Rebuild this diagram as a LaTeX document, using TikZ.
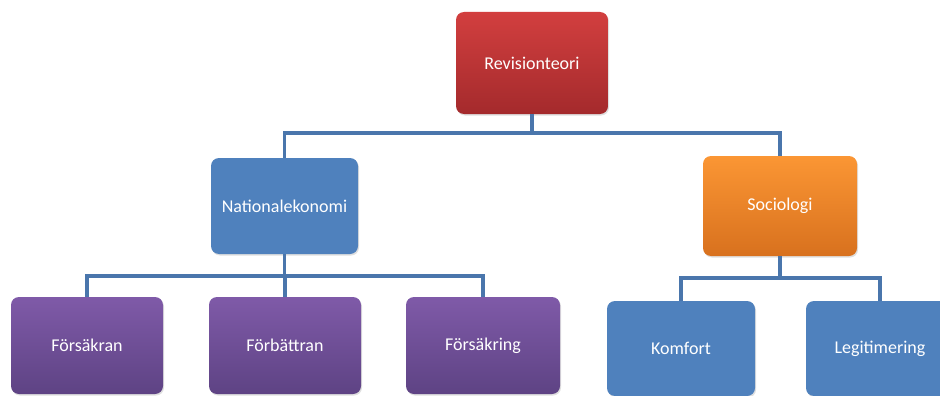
\documentclass[tikz,border=0pt]{standalone}
\usepackage{fontspec}
\setmainfont{Carlito}
\usetikzlibrary{shadows}
\definecolor{linkblue}{HTML}{4A76AC}
\definecolor{redtop}{HTML}{D23F3F}
\definecolor{redbot}{HTML}{A42A2C}
\definecolor{bluebox}{HTML}{4F81BD}
\definecolor{orangetop}{HTML}{FB9634}
\definecolor{orangebot}{HTML}{D8711E}
\definecolor{purpletop}{HTML}{7F5AA8}
\definecolor{purplebot}{HTML}{5E4384}
\tikzset{
  x=1pt, y=-1pt,
  card/.style={rectangle, rounded corners=8pt, text=white,
    font=\fontsize{18}{20}\selectfont,
    drop shadow={shadow xshift=1pt, shadow yshift=-1.5pt, opacity=0.25}},
  redcard/.style={card, top color=redtop, bottom color=redbot},
  bluecard/.style={card, fill=bluebox},
  orangecard/.style={card, top color=orangetop, bottom color=orangebot},
  purplecard/.style={card, top color=purpletop, bottom color=purplebot},
  conn/.style={draw=linkblue, line width=3.2pt}
}
\begin{document}
\begin{tikzpicture}
\useasboundingbox (0,0) rectangle (940,396);
\clip (0,0) rectangle (940,396);
\fill[white] (0,0) rectangle (940,396);

% top level
\node[redcard, minimum width=152pt, minimum height=102pt] (rev) at (532,63) {Revisionteori};

% second level
\node[bluecard, minimum width=147pt, minimum height=96pt] (nat) at (284.5,206) {Nationalekonomi};
\node[orangecard, minimum width=154pt, minimum height=100pt] (soc) at (780,206) {Sociologi};

% third level
\node[purplecard, minimum width=152pt, minimum height=97pt] (fk1) at (87,345.5) {Försäkran};
\node[purplecard, minimum width=152pt, minimum height=97pt] (fb) at (285,345.5) {Förbättran};
\node[purplecard, minimum width=154pt, minimum height=97pt] (fk2) at (483,345.5) {Försäkring};
\node[bluecard, minimum width=148pt, minimum height=95pt] (kom) at (681,348.5) {Komfort};
\node[bluecard, minimum width=148pt, minimum height=95pt] (leg) at (880,348.5) {Legitimering};

% junction points of the connector bars
\coordinate (j1) at (532,133);
\coordinate (j2) at (284.5,276);
\coordinate (j3) at (780,278);

\draw[conn] (rev.south) -- (j1);
\draw[conn] (j1) -| (nat.north);
\draw[conn] (j1) -| (soc.north);
\draw[conn] (nat.south) -- (j2);
\draw[conn] (j2) -| (fk1.north);
\draw[conn] (j2) -| (fb.north);
\draw[conn] (j2) -| (fk2.north);
\draw[conn] (soc.south) -- (j3);
\draw[conn] (j3) -| (kom.north);
\draw[conn] (j3) -| (leg.north);
\end{tikzpicture}
\end{document}
